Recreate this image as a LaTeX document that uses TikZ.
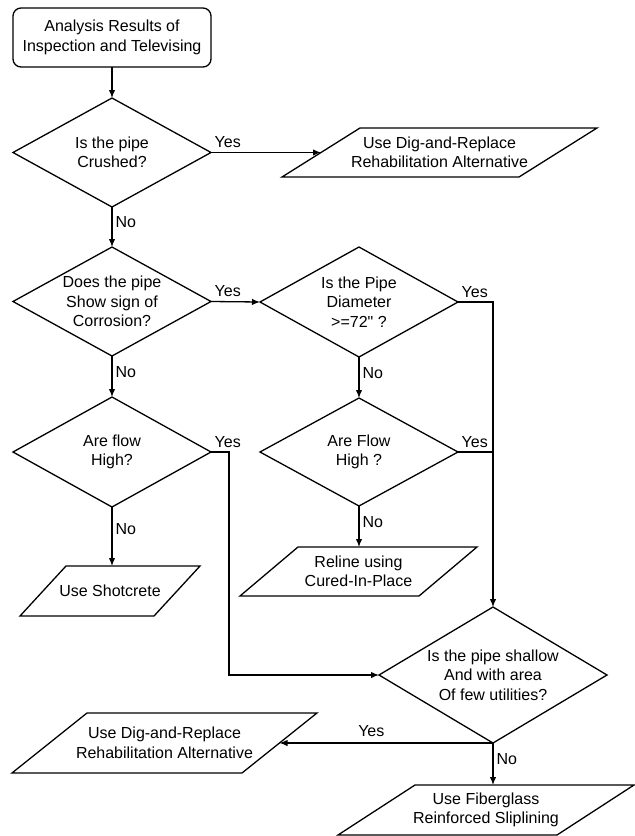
\documentclass[tikz,border=0pt]{standalone}
\usepackage{fontspec}
\setmainfont{Liberation Sans}[Ligatures=TeXOff]
\usetikzlibrary{arrows.meta,calc}
\newcommand\flowfont{\fontsize{16}{19.5}\selectfont}
\tikzset{
  flowline/.style={line width=1.3pt, line join=miter},
  base/.style={font=\flowfont, align=center, inner sep=0pt, outer sep=0pt},
  startbox/.style={base, draw, flowline, rounded corners=8pt,
    minimum width=198pt, minimum height=59pt},
  % decision: the diamond is drawn through the four side anchors of the node box
  decision/.style={base, append after command={\pgfextra{
    \draw[flowline] (\tikzlastnode.north) -- (\tikzlastnode.east)
      -- (\tikzlastnode.south) -- (\tikzlastnode.west) -- cycle;}}},
  % io: parallelogram inside the node box, #1 = horizontal slant
  io/.style={base, append after command={\pgfextra{
    \draw[flowline] ($(\tikzlastnode.north west)+(#1,0)$) -- (\tikzlastnode.north east)
      -- ($(\tikzlastnode.south east)+(-#1,0)$) -- (\tikzlastnode.south west) -- cycle;}}},
  arr/.style={flowline, -{Latex[length=8pt,width=6.5pt]}},
  yes/.style={pos=0, anchor=south west, xshift=3pt, yshift=4pt, inner sep=0pt, font=\flowfont},
  no/.style={pos=0.38, anchor=west, xshift=3pt, inner sep=0pt, font=\flowfont},
}
\begin{document}
\begin{tikzpicture}[x=1pt,y=-1pt]
\useasboundingbox (0,0) rectangle (635,836);

% boxes
\node[startbox] (start) at (112,37.5) {Analysis Results of\\Inspection and Televising};
\node[decision, minimum width=198pt, minimum height=109pt] (crushed) at (112,152.5) {Is the pipe\\Crushed?};
\node[io=78, minimum width=315pt, minimum height=49pt] (digA) at (439.5,152.5) {Use Dig-and-Replace\\Rehabilitation Alternative};
\node[decision, minimum width=198pt, minimum height=109pt] (corr) at (112,301.5) {Does the pipe\\Show sign of\\Corrosion?};
\node[decision, minimum width=198pt, minimum height=110pt] (diam) at (359,302) {Is the Pipe\\Diameter\\>=72" ?};
\node[decision, minimum width=198pt, minimum height=110pt] (flowA) at (112,452) {Are flow\\High?};
\node[decision, minimum width=198pt, minimum height=108pt] (flowB) at (359,452) {Are Flow\\High ?};
\node[io=46, minimum width=180pt, minimum height=50pt] (shot) at (110,591) {Use Shotcrete};
\node[io=58, minimum width=237pt, minimum height=49pt] (reline) at (358.5,571.5) {Reline using\\Cured-In-Place};
\node[decision, minimum width=228pt, minimum height=136pt] (shallow) at (493,675) {Is the pipe shallow\\And with area\\Of few utilities?};
\node[io=75, minimum width=305pt, minimum height=60pt] (digB) at (164.5,743) {Use Dig-and-Replace\\Rehabilitation Alternative};
\node[io=77, minimum width=296pt, minimum height=50pt] (fiber) at (486,810) {Use Fiberglass\\Reinforced Sliplining};

% junction points
\coordinate (jR) at (diam.east -| shallow.north);
\coordinate (jL) at (229,452);

% connectors
\draw[arr] (start.south) -- (crushed.north);
\draw[arr] (crushed.east) -- node[yes]{Yes} ($(digA.west)+(39,0)$);
\draw[arr] (crushed.south) -- node[no]{No} (corr.north);
\draw[arr] (corr.east) -- node[yes]{Yes} (diam.west);
\draw[arr] (corr.south) -- node[no]{No} (flowA.north);
\draw[arr] (diam.east) -- node[yes]{Yes} (jR) -- (shallow.north);
\draw[arr] (diam.south) -- node[no]{No} (flowB.north);
\draw[flowline] (flowB.east) -- node[yes]{Yes} (flowB.east -| jR);
\draw[arr] (flowB.south) -- node[no]{No} (flowB.south |- reline.north);
\draw[arr] (flowA.south) -- node[no]{No} (flowA.south |- shot.north);
\draw[arr] (flowA.east) -- node[yes]{Yes} (jL) |- (shallow.west);
\draw[arr] (shallow.south) -- node[pos=0.57, anchor=south, yshift=6pt, inner sep=0pt, font=\flowfont]{Yes} ($(digB.east)+(-37.5,0)$);
\draw[arr] (shallow.south) -- node[no]{No} (shallow.south |- fiber.north);
\end{tikzpicture}
\end{document}
